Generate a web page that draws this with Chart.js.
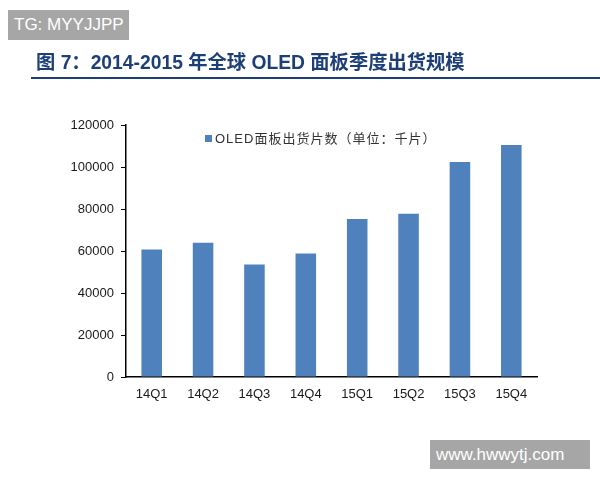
<!DOCTYPE html>
<html>
<head>
<meta charset="utf-8">
<script src="https://cdn.jsdelivr.net/npm/chart.js@4"></script>
<style>
  body { margin: 0; background: #fff; font-family: "Liberation Sans", Arial, "Noto Sans CJK SC", sans-serif; }
  #wrap { position: relative; width: 600px; height: 480px; overflow: hidden; }
  #shipChart { position: absolute; left: 0; top: 0; }
  .tag { position: absolute; background: #a6a6a6; color: #fff; font-size: 17px; line-height: 30px; white-space: nowrap; box-sizing: border-box; }
  #tg { left: 8px; top: 10px; width: 121px; padding-left: 6px; }
  #site { left: 430px; top: 440px; width: 160px; line-height: 29px; padding-left: 6px; }
  #title { position: absolute; left: 36px; top: 47px; font-size: 19.3px; font-weight: bold; color: #1c3f78;
           white-space: nowrap; }
  #rule { position: absolute; left: 31px; top: 77px; width: 569px; height: 2px; background: #1c3f78; }
  #legend { position: absolute; left: 205px; top: 131px; font-size: 13px; line-height: 16px; color: #333;
            letter-spacing: 1px; white-space: nowrap; }
  #legend span { display: inline-block; width: 7px; height: 7px; background: #4f81bd; margin-right: 3px; vertical-align: 1px; }
</style>
</head>
<body>
<div id="wrap">
  <canvas id="shipChart" width="600" height="480"></canvas>
  <div class="tag" id="tg">TG: MYYJJPP</div>
  <div id="title">图 7：2014-2015 年全球 OLED 面板季度出货规模</div>
  <div id="rule"></div>
  <div id="legend"><span></span>OLED面板出货片数（单位：千片）</div>
  <div class="tag" id="site">www.hwwytj.com</div>
</div>
<script>
// quarters and shipments (thousand panels)
const quarters = ['14Q1', '14Q2', '14Q3', '14Q4', '15Q1', '15Q2', '15Q3', '15Q4'];
const shipments = [60700, 63900, 53600, 58800, 75200, 77700, 102400, 110500];
const seriesName = 'OLED面板出货片数（单位：千片）';
const yTicks = [0, 20000, 40000, 60000, 80000, 100000, 120000];

const font = "'Liberation Sans', Arial, 'Noto Sans CJK SC', sans-serif";

const ctx = document.getElementById('shipChart').getContext('2d');
new Chart(ctx, {
    type: 'bar',
    data: {
        labels: quarters,
        datasets: [{
            label: seriesName,
            data: shipments,
            backgroundColor: '#4f81bd',
            borderWidth: 0,
            categoryPercentage: 0.4,
            barPercentage: 1
        }]
    },
    options: {
        responsive: false,
        animation: false,
        layout: { padding: { left: 0, right: 63, top: 125, bottom: 0 } },
        plugins: {
            legend: { display: false },  // drawn as html above
            tooltip: { enabled: false }
        },
        scales: {
            x: {
                grid: { drawOnChartArea: false, drawTicks: false },
                border: { display: true, color: '#000', width: 1.5 },
                ticks: { color: '#1a1a1a', padding: 10, font: { family: font, size: 13 } },
                afterFit: (scale) => { scale.height = 103; }
            },
            y: {
                min: 0,
                max: 120000,
                afterBuildTicks: (scale) => { scale.ticks = yTicks.map(v => ({ value: v })); },
                grid: { drawOnChartArea: false, drawTicks: true, tickLength: 5, color: '#000' },
                border: { display: true, color: '#000', width: 1.5 },
                ticks: {
                    color: '#1a1a1a',
                    padding: 7,
                    font: { family: font, size: 13 },
                    callback: (v) => String(v)
                },
                afterFit: (scale) => { scale.width = 126; }
            }
        }
    }
});
</script>
</body>
</html>
